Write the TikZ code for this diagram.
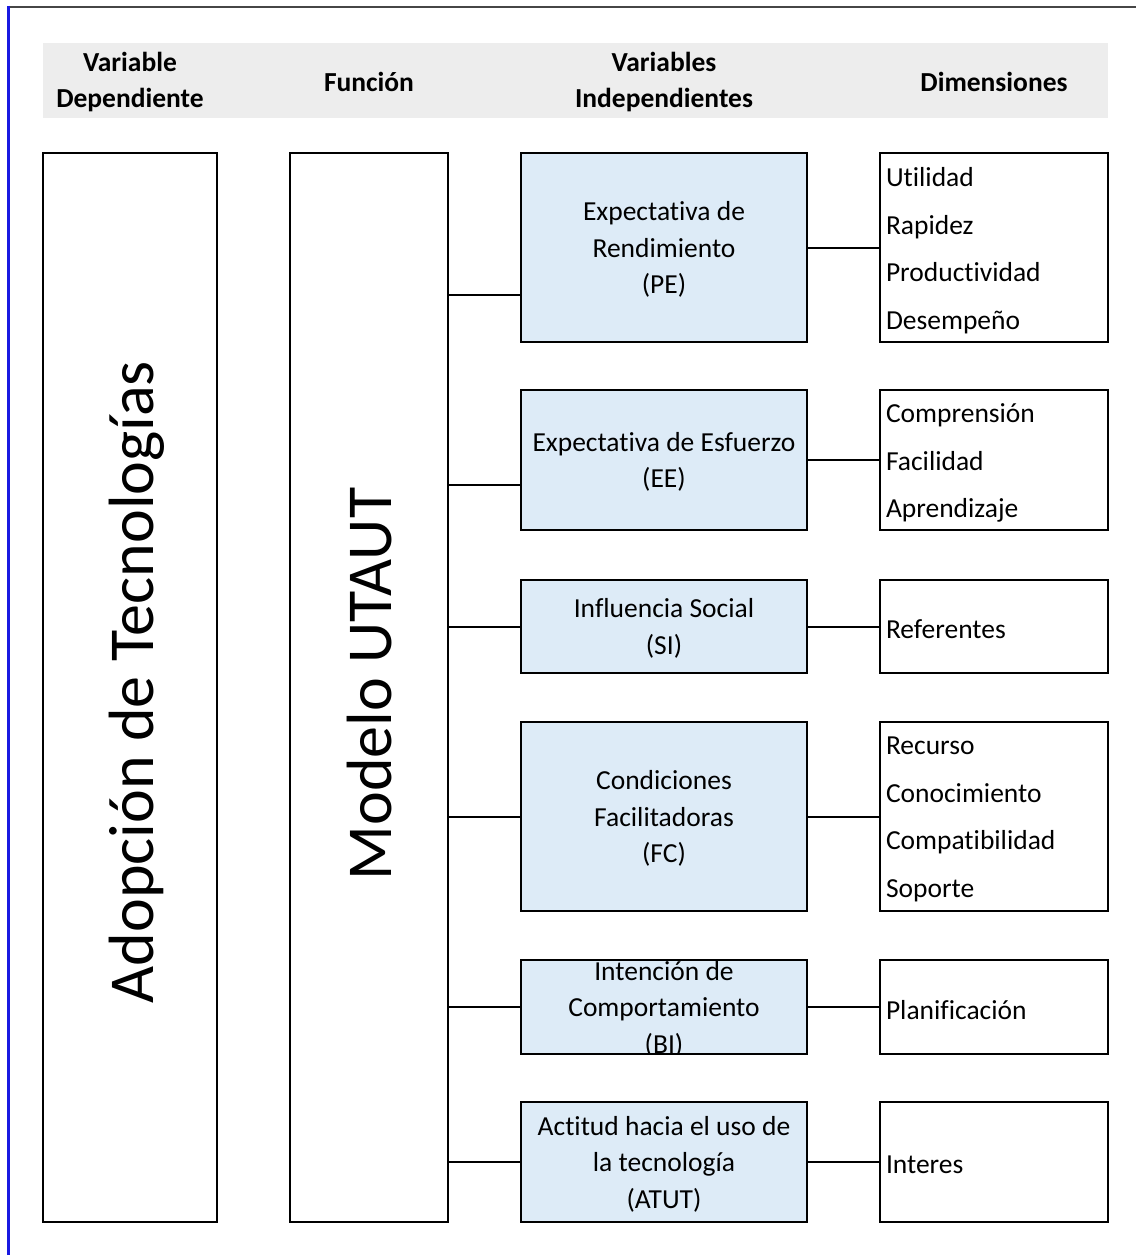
\documentclass[tikz,border=0pt]{standalone}
\usepackage{fontspec}
\setmainfont{Carlito}[Ligatures=NoCommon]
\definecolor{headgray}{RGB}{237,237,237}
\definecolor{midblue}{RGB}{221,235,247}
\definecolor{frameblue}{RGB}{25,25,225}
\definecolor{framegray}{RGB}{70,70,70}
\begin{document}
\begin{tikzpicture}[x=1pt,y=-1pt,
  box/.style={draw, line width=2pt, inner sep=0pt, outer sep=0pt},
  tallbox/.style={box, minimum height=1069pt},
  plain/.style={draw=none, fill=none, inner sep=0pt, minimum width=0pt, minimum height=0pt},
  midtext/.style={plain, align=center, font=\fontsize{27.5}{36.5}\selectfont},
  dimtext/.style={plain, align=left, anchor=west, font=\fontsize{27.5}{47.5}\selectfont},
  midbox/.style={box, fill=midblue, minimum width=286pt,
    path picture={\node[midtext] at ([yshift=-2pt]path picture bounding box.center) {#1};}},
  dimbox/.style={box, minimum width=228pt,
    path picture={\node[dimtext] at ([xshift=6pt,yshift=-3pt]path picture bounding box.west) {#1};}},
  headtext/.style={align=center, inner sep=0pt, font=\fontsize{27.5}{36}\selectfont\bfseries},
  bigtext/.style={inner sep=0pt, rotate=90, anchor=base, font=\fontsize{64}{70}\selectfont},
  conn/.style={line width=2pt}
]
\useasboundingbox (0,0) rectangle (1136,1255);
\fill[white] (0,0) rectangle (1136,1255);

% page frame: grey rule on top, blue rule on the left
\draw[framegray, line width=2pt] (8,7) -- (1136,7);
\draw[frameblue, line width=2.6pt] (8.7,6) -- (8.7,1255);

% header band and column titles
\node[fill=headgray, minimum width=1065pt, minimum height=75pt, inner sep=0pt] (band) at (575.5,80.5) {};
\node[headtext] (h1) at (130,82) {Variable\\Dependiente};
\node[headtext] (h2) at (369,82) {Función};
\node[headtext] (h3) at (664,82) {Variables\\Independientes};
\node[headtext] (h4) at (994,82) {Dimensiones};

% dependent variable and function
\node[tallbox, minimum width=174pt] (dep) at (130,687.5) {};
\node[bigtext] (deptext) at (153,682) {Adopción de Tecnologías};
\node[tallbox, minimum width=158pt] (model) at (369,687.5) {};
\node[bigtext] (modeltext) at (391,684) {Modelo UTAUT};

% independent variables
\node[midbox={Expectativa de\\Rendimiento\\(PE)}, minimum height=189pt] (pe) at (664,247.5) {};
\node[midbox={Expectativa de Esfuerzo\\(EE)}, minimum height=140pt] (ee) at (664,460) {};
\node[midbox={Influencia Social\\(SI)}, minimum height=93pt] (si) at (664,626.5) {};
\node[midbox={Condiciones\\Facilitadoras\\(FC)}, minimum height=189pt] (fc) at (664,816.5) {};
\node[midbox={Intención de\\Comportamiento\\(BI)}, minimum height=94pt] (bi) at (664,1007) {};
\node[midbox={Actitud hacia el uso de\\la tecnología\\(ATUT)}, minimum height=120pt] (at) at (664,1162) {};

% dimensions
\node[dimbox={Utilidad\\Rapidez\\Productividad\\Desempeño}, minimum height=189pt] (d1) at (994,247.5) {};
\node[dimbox={Comprensión\\Facilidad\\Aprendizaje}, minimum height=140pt] (d2) at (994,460) {};
\node[dimbox={Referentes}, minimum height=93pt] (d3) at (994,626.5) {};
\node[dimbox={Recurso\\Conocimiento\\Compatibilidad\\Soporte}, minimum height=189pt] (d4) at (994,816.5) {};
\node[dimbox={Planificación}, minimum height=94pt] (d5) at (994,1007) {};
\node[dimbox={Interes}, minimum height=120pt] (d6) at (994,1162) {};

% model to independent variables
\coordinate (peL) at ([yshift=-47.5pt]pe.west);
\coordinate (eeL) at ([yshift=-25pt]ee.west);
\draw[conn] (peL) -- (peL -| model.east);
\draw[conn] (eeL) -- (eeL -| model.east);
\draw[conn] (si.west) -- (si.west -| model.east);
\draw[conn] (fc.west) -- (fc.west -| model.east);
\draw[conn] (bi.west) -- (bi.west -| model.east);
\draw[conn] (at.west) -- (at.west -| model.east);

% independent variables to dimensions
\draw[conn] (pe.east) -- (d1.west);
\draw[conn] (ee.east) -- (d2.west);
\draw[conn] (si.east) -- (d3.west);
\draw[conn] (fc.east) -- (d4.west);
\draw[conn] (bi.east) -- (d5.west);
\draw[conn] (at.east) -- (d6.west);
\end{tikzpicture}
\end{document}
